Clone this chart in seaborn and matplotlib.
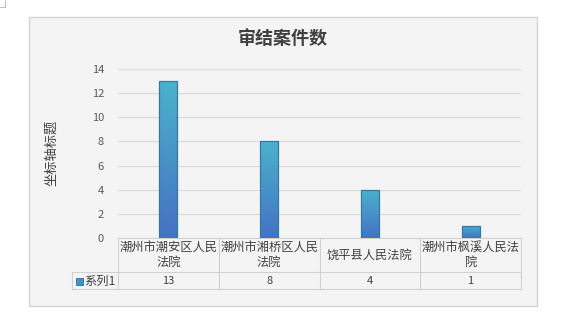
import numpy as np
import matplotlib
matplotlib.use("Agg")
import matplotlib.pyplot as plt
import matplotlib.transforms as mtransforms
from matplotlib.patches import Rectangle
from matplotlib.lines import Line2D
from matplotlib.colors import LinearSegmentedColormap
import seaborn as sns

# ---- data ----
categories = ["潮州市潮安区人民法院", "潮州市湘桥区人民法院", "饶平县人民法院", "潮州市枫溪人民法院"]
category_labels = ["潮州市潮安区人民\n法院", "潮州市湘桥区人民\n法院", "饶平县人民法院", "潮州市枫溪人民法\n院"]
values = [13, 8, 4, 1]
series_name = "系列1"
title = "审结案件数"
y_label = "坐标轴标题"
y_ticks = [0, 2, 4, 6, 8, 10, 12, 14]

sns.set_theme(style="white")
plt.rcParams['font.family'] = ['Noto Sans CJK SC', 'DejaVu Sans']

W, H = 568, 322
fig = plt.figure(figsize=(W / 100, H / 100), dpi=100)
fig.patch.set_facecolor("white")

def fx(px):
    return px / W

def fy(py):
    return 1 - py / H

# chart frame
fig.add_artist(Rectangle((fx(29), fy(306)), fx(537) - fx(29), fy(17) - fy(306),
                         transform=fig.transFigure, facecolor="#f4f4f4",
                         edgecolor="#d4d4d4", linewidth=1.0, zorder=0))
# small corner mark
fig.add_artist(Line2D([fx(5), fx(5)], [fy(0), fy(7)], transform=fig.transFigure, color="#bfbfbf", lw=0.8))
fig.add_artist(Line2D([fx(0), fx(5)], [fy(7), fy(7)], transform=fig.transFigure, color="#bfbfbf", lw=0.8))

ax = fig.add_axes([fx(118), fy(238), fx(521) - fx(118), fy(69) - fy(238)])
ax.set_facecolor("none")

sns.barplot(x=categories, y=values, width=0.18, color="#4a90c8", ax=ax, zorder=3)

cmap = LinearSegmentedColormap.from_list("g", ["#4472c4", "#4bb2cc"])
grad = np.linspace(0, 1, 256).reshape(-1, 1)
for p in ax.patches:
    x0, w, h = p.get_x(), p.get_width(), p.get_height()
    p.set_facecolor("none")
    p.set_edgecolor("#347a9e")
    p.set_linewidth(0.9)
    im = ax.imshow(grad, extent=[x0, x0 + w, 0, h], origin="lower", aspect="auto",
                   cmap=cmap, zorder=2.5)
    im.set_clip_path(p)

ax.set_xlim(-0.5, len(categories) - 0.5)
ax.set_ylim(0, 14)
ax.set_yticks(y_ticks)
ax.set_yticklabels([str(t) for t in y_ticks])
ax.tick_params(axis="y", length=0, pad=10, labelsize=8, labelcolor="#595959")
ax.set_xticks([])
ax.set_xlabel("")
for s in ax.spines.values():
    s.set_visible(False)
ax.yaxis.grid(True, color="#d9d9d9", linewidth=0.8)
ax.set_axisbelow(True)

# title and y label
fig.text(fx(283), fy(38), title, ha="center", va="center", fontsize=13,
         color="#404040", fontweight="bold")
fig.text(fx(52), fy(153), y_label, ha="center", va="center", rotation=90,
         fontsize=9.5, color="#404040")

# data table
bt = mtransforms.blended_transform_factory(ax.transData, fig.transFigure)
line_kw = dict(color="#d0d0d0", lw=0.8, clip_on=False)
n = len(categories)
y_top, y_mid, y_bot = fy(238), fy(272), fy(289)
ax.plot([-0.5, n - 0.5], [y_top, y_top], transform=bt, **line_kw)
ax.plot([-0.5, n - 0.5], [y_mid, y_mid], transform=bt, **line_kw)
ax.plot([-0.5, n - 0.5], [y_bot, y_bot], transform=bt, **line_kw)
fig.add_artist(Line2D([fx(72), fx(118)], [y_mid, y_mid], transform=fig.transFigure, color="#d0d0d0", lw=0.8))
fig.add_artist(Line2D([fx(72), fx(118)], [y_bot, y_bot], transform=fig.transFigure, color="#d0d0d0", lw=0.8))
fig.add_artist(Line2D([fx(72), fx(72)], [y_mid, y_bot], transform=fig.transFigure, color="#d0d0d0", lw=0.8))
for i in range(n + 1):
    ax.plot([i - 0.5, i - 0.5], [y_top, y_bot], transform=bt, **line_kw)

for i, (lab, v) in enumerate(zip(category_labels, values)):
    ax.text(i, fy(255), lab, transform=bt, ha="center", va="center", fontsize=8.8,
            color="#404040", linespacing=1.15)
    ax.text(i, fy(281), str(v), transform=bt, ha="center", va="center", fontsize=8,
            color="#404040")

# legend key
fig.add_artist(Rectangle((fx(76), fy(285)), fx(7), fy(0) - fy(7), transform=fig.transFigure,
                         facecolor="#3f93c8", edgecolor="#2f6f9a", lw=0.6))
fig.text(fx(84), fy(281), series_name, ha="left", va="center", fontsize=8.8, color="#404040")

fig.savefig("out.png", dpi=100)
